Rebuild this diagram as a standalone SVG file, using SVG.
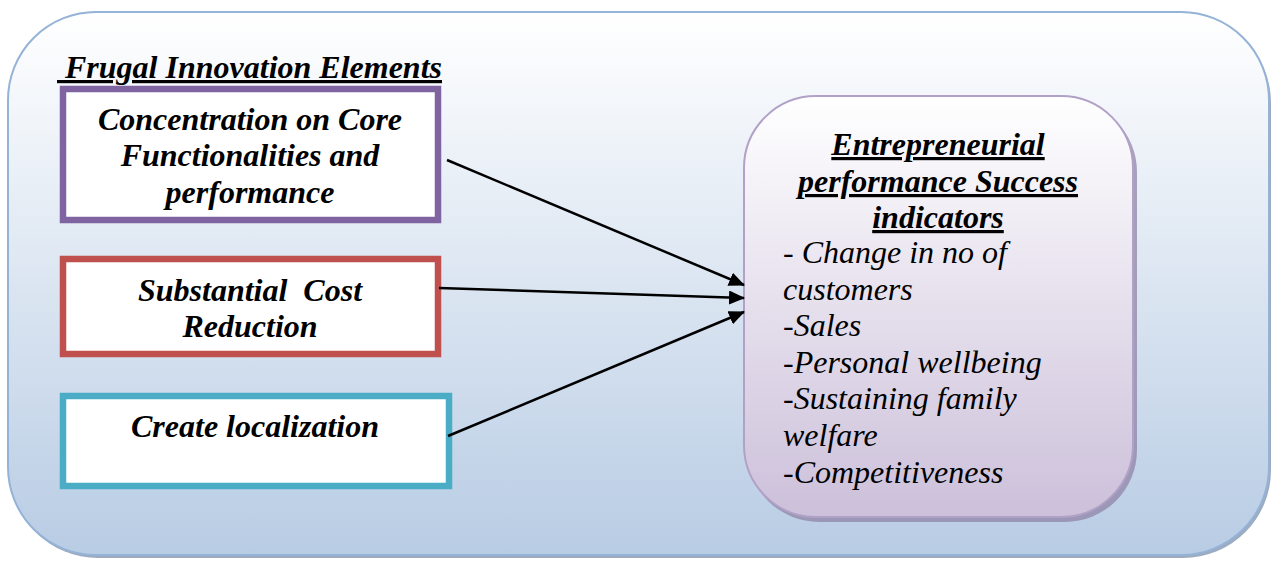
<svg xmlns="http://www.w3.org/2000/svg" width="1271" height="561" viewBox="0 0 1271 561">
  <defs>
    <linearGradient id="bgGrad" x1="0" y1="0" x2="0" y2="1">
      <stop offset="0" stop-color="#ffffff"/>
      <stop offset="1" stop-color="#b8cce4"/>
    </linearGradient>
    <linearGradient id="outGrad" x1="0" y1="0" x2="0" y2="1">
      <stop offset="0" stop-color="#ffffff"/>
      <stop offset="1" stop-color="#ccc0da"/>
    </linearGradient>
    <marker id="arrow" markerUnits="userSpaceOnUse" markerWidth="16" markerHeight="14" refX="15" refY="7" orient="auto">
      <path d="M0,0 L16,7 L0,14 Z" fill="#000"/>
    </marker>
    <style>
      .t { font-family: "Liberation Serif", "Times New Roman", serif; font-size: 32px; font-style: italic; fill: #000; }
      .b { font-weight: bold; }
      .u { text-decoration: underline; }
      .box { fill: #ffffff; stroke-width: 6.5; }
      .conn { stroke: #000; stroke-width: 2.5; fill: none; marker-end: url(#arrow); }
    </style>
  </defs>

  <!-- background panel -->
  <g id="panel">
    <rect x="10" y="15" width="1261" height="543" rx="88" fill="#8396b0" opacity="0.8"/>
    <rect x="8" y="12" width="1261" height="543" rx="88" fill="url(#bgGrad)" stroke="#95b3d7" stroke-width="2"/>
  </g>

  <!-- group heading -->
  <g id="heading">
    <text class="t b u" x="57" y="78" xml:space="preserve"> Frugal Innovation Elements</text>
  </g>

  <g id="node-core">
    <rect class="box" x="63" y="89" width="375" height="131" stroke="#8064a2"/>
    <text class="t b" text-anchor="middle" x="250" y="130">Concentration on Core</text>
    <text class="t b" text-anchor="middle" x="250" y="166">Functionalities and</text>
    <text class="t b" text-anchor="middle" x="250" y="203">performance</text>
  </g>

  <g id="node-cost">
    <rect class="box" x="63" y="259" width="375" height="95" stroke="#c0504d"/>
    <text class="t b" text-anchor="middle" x="250" y="301" xml:space="preserve">Substantial  Cost</text>
    <text class="t b" text-anchor="middle" x="250" y="337">Reduction</text>
  </g>

  <g id="node-local">
    <rect class="box" x="63" y="396" width="386" height="90" stroke="#4bacc6"/>
    <text class="t b" text-anchor="middle" x="255" y="437">Create localization</text>
  </g>

  <g id="node-success">
    <rect x="747" y="100" width="390" height="422" rx="72" fill="#8c7fa3" opacity="0.7"/>
    <rect x="744" y="96" width="389" height="421" rx="72" fill="url(#outGrad)" stroke="#b2a1c7" stroke-width="2"/>
    <text class="t b u" text-anchor="middle" x="938" y="155">Entrepreneurial</text>
    <text class="t b u" text-anchor="middle" x="938" y="192">performance Success</text>
    <text class="t b u" text-anchor="middle" x="938" y="228">indicators</text>
    <text class="t" x="783" y="263">- Change in no of</text>
    <text class="t" x="783" y="300">customers</text>
    <text class="t" x="783" y="336">-Sales</text>
    <text class="t" x="783" y="373">-Personal wellbeing</text>
    <text class="t" x="783" y="409">-Sustaining family</text>
    <text class="t" x="783" y="446">welfare</text>
    <text class="t" x="783" y="483">-Competitiveness</text>
  </g>

  <g id="connectors">
    <line class="conn" x1="447" y1="160" x2="744" y2="285"/>
    <line class="conn" x1="439" y1="288" x2="744" y2="298"/>
    <line class="conn" x1="448" y1="436" x2="744" y2="312"/>
  </g>
</svg>
